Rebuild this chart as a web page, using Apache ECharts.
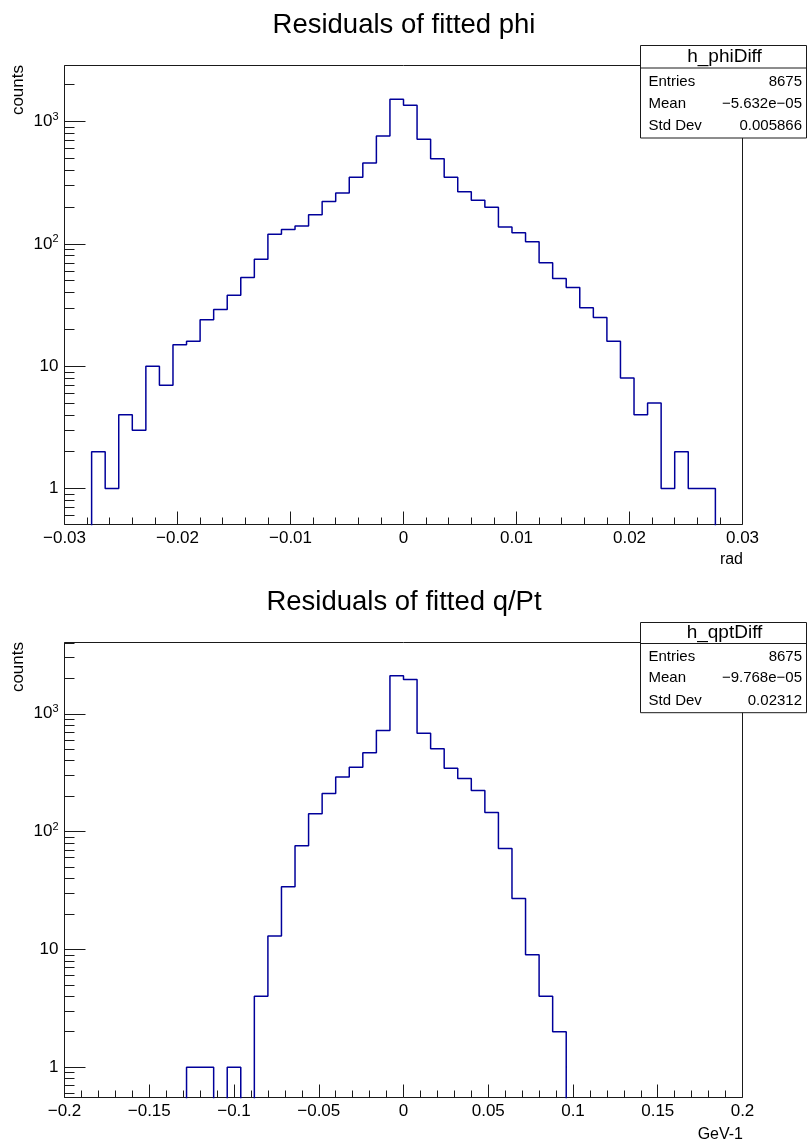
<!DOCTYPE html>
<html>
<head>
<meta charset="utf-8">
<script src="https://cdn.jsdelivr.net/npm/echarts@6/dist/echarts.min.js"></script>
<style>
html,body{margin:0;padding:0;background:#fff;}
#c{width:807px;height:1145px;}
</style>
</head>
<body>
<div id="c"></div>
<script>
// ---------------- data ----------------
// h_phiDiff : 50 bins over [-0.03, 0.03] (rad)
const phiBinRange = [-0.03, 0.03];
const phiCounts = [0,0,2,1,4,3,10,7,15,16,24,29,38,53,75,120,
                   131,140,173,222,260,351,459,763,1523,1360,
                   717,495,351,266,227,199,137,123,104,
                   70,52,44,30,25,16,8,4,5,1,2,1,1,0,0];
const phiXTickStep = 0.01;
const phiYRange = [0.508, 2870];
const phiStats = [['Entries','8675'],['Mean','\u22125.632e\u221205'],['Std Dev','0.005866']];

// h_qptDiff : 50 bins over [-0.2, 0.2] (GeV-1)
const qptBinRange = [-0.2, 0.2];
const qptCounts = [0,0,0,0,0,0,0,0,0,1,1,0,1,0,
                   4,13,34,76,142,211,291,352,466,721,2104,1958,684,504,345,283,223,145,72,27,9,4,2,
                   0,0,0,0,0,0,0,0,0,0,0,0,0];
const qptXTickStep = 0.05;
const qptYRange = [0.553, 4030];
const qptStats = [['Entries','8675'],['Mean','\u22129.768e\u221205'],['Std Dev','0.02312']];

const titles = ['Residuals of fitted phi', 'Residuals of fitted q/Pt'];
const xTitles = ['rad', 'GeV-1'];
const yTitle = 'counts';
const histNames = ['h_phiDiff', 'h_qptDiff'];

// ---------------- rendering ----------------
const FONT = '"Liberation Sans", Arial, Helvetica, sans-serif';
const AX = '#1a1a1a';
const LINE = '#00009a';
const ZERO_FLOOR = 1e-3; // empty bins sit below the visible log range (clipped)

function stepData(range, counts) {
  const n = counts.length, w = (range[1] - range[0]) / n;
  const pts = counts.map((c, i) => [range[0] + i * w, c > 0 ? c : ZERO_FLOOR]);
  pts.push([range[1], counts[n - 1] > 0 ? counts[n - 1] : ZERO_FLOOR]);
  return pts;
}
function fmtX(v) {
  const s = String(+(+v).toFixed(4));
  return s.replace('-', '\u2212');
}
function fmtY(v) {
  const e = Math.round(Math.log10(v));
  if (e === 0) return '1';
  if (e === 1) return '10';
  return '{b|10}{s|' + e + '}';
}

const grids = [
  {left: 64.5, top: 65.5, width: 678, height: 459},
  {left: 64.5, top: 642.5, width: 678, height: 455}
];

function xAxis(idx, range, step) {
  return {
    type: 'value', gridIndex: idx, min: range[0], max: range[1], interval: step,
    position: 'bottom',
    axisLine: {show: false, onZero: false}, splitLine: {show: false},
    axisTick: {show: true, inside: true, length: 13, lineStyle: {color: AX, width: 1}},
    minorTick: {show: true, splitNumber: 5, length: 7, lineStyle: {color: AX, width: 1}},
    axisLabel: {show: true, interval: 0, margin: 5, fontSize: 17, color: '#000', fontFamily: FONT,
                formatter: fmtX, showMinLabel: true, showMaxLabel: true}
  };
}
function yAxis(idx, range) {
  return {
    type: 'log', logBase: 10, gridIndex: idx, min: range[0], max: range[1],
    position: 'left',
    axisLine: {show: false, onZero: false}, splitLine: {show: false},
    axisTick: {show: true, inside: true, length: 21, lineStyle: {color: AX, width: 1}},
    minorTick: {show: true, splitNumber: 9, length: 10, lineStyle: {color: AX, width: 1}},
    axisLabel: {show: true, margin: 6, fontSize: 17, color: '#000', fontFamily: FONT,
                formatter: fmtY, showMinLabel: false, showMaxLabel: false,
                rich: {
                  b: {fontSize: 17, fontFamily: FONT, color: '#000', lineHeight: 20},
                  s: {fontSize: 11, fontFamily: FONT, color: '#000', lineHeight: 11, verticalAlign: 'top'}
                }}
  };
}

function statsBox(x, y, w, headH, rowYs, name, rows) {
  const els = [];
  const h = rowYs[rowYs.length - 1] - y + 12;
  els.push({type: 'rect', z: 100, shape: {x: x, y: y, width: w, height: h},
            style: {fill: '#fff', stroke: AX, lineWidth: 1}});
  els.push({type: 'line', z: 101, shape: {x1: x, y1: y + headH, x2: x + w, y2: y + headH},
            style: {stroke: AX, lineWidth: 1}});
  els.push({type: 'text', z: 102, x: x + w / 2 + 1, y: y + headH / 2,
            style: {text: name, font: '19px ' + FONT, fill: '#000', textAlign: 'center', textVerticalAlign: 'middle'}});
  rows.forEach((r, i) => {
    els.push({type: 'text', z: 102, x: x + 8, y: rowYs[i],
              style: {text: r[0], font: '15px ' + FONT, fill: '#000', textAlign: 'left', textVerticalAlign: 'middle'}});
    els.push({type: 'text', z: 102, x: x + w - 4.5, y: rowYs[i],
              style: {text: r[1], font: '15px ' + FONT, fill: '#000', textAlign: 'right', textVerticalAlign: 'middle'}});
  });
  return els;
}

const graphic = [
  {type: 'text', x: 404, y: 25, style: {text: titles[0], font: '27.5px ' + FONT, fill: '#000', textAlign: 'center', textVerticalAlign: 'middle'}},
  {type: 'text', x: 404, y: 602, style: {text: titles[1], font: '27.5px ' + FONT, fill: '#000', textAlign: 'center', textVerticalAlign: 'middle'}},
  {type: 'text', x: 18, y: 65, rotation: Math.PI / 2, style: {text: yTitle, font: '17px ' + FONT, fill: '#000', textAlign: 'right', textVerticalAlign: 'middle'}},
  {type: 'text', x: 18, y: 642, rotation: Math.PI / 2, style: {text: yTitle, font: '17px ' + FONT, fill: '#000', textAlign: 'right', textVerticalAlign: 'middle'}},
  {type: 'text', x: 743, y: 560, style: {text: xTitles[0], font: '16px ' + FONT, fill: '#000', textAlign: 'right', textVerticalAlign: 'middle'}},
  {type: 'text', x: 743, y: 1135, style: {text: xTitles[1], font: '16px ' + FONT, fill: '#000', textAlign: 'right', textVerticalAlign: 'middle'}}
].concat(
  statsBox(640.5, 45.5, 166, 22.5, [81.5, 103.5, 126], histNames[0], phiStats),
  statsBox(640.5, 622.5, 166, 21, [656.7, 678.3, 700.7], histNames[1], qptStats)
);

const chart = echarts.init(document.getElementById('c'), null, {renderer: 'canvas'});
chart.setOption({
  animation: false,
  backgroundColor: '#fff',
  grid: grids.map(g => Object.assign({show: true, borderColor: AX, borderWidth: 1, backgroundColor: 'transparent'}, g)),
  xAxis: [xAxis(0, phiBinRange, phiXTickStep), xAxis(1, qptBinRange, qptXTickStep)],
  yAxis: [yAxis(0, phiYRange), yAxis(1, qptYRange)],
  series: [
    {type: 'line', xAxisIndex: 0, yAxisIndex: 0, step: 'end', symbol: 'none', clip: true,
     lineStyle: {color: LINE, width: 1.5}, data: stepData(phiBinRange, phiCounts)},
    {type: 'line', xAxisIndex: 1, yAxisIndex: 1, step: 'end', symbol: 'none', clip: true,
     lineStyle: {color: LINE, width: 1.5}, data: stepData(qptBinRange, qptCounts)}
  ],
  graphic: graphic
});
</script>
</body>
</html>
